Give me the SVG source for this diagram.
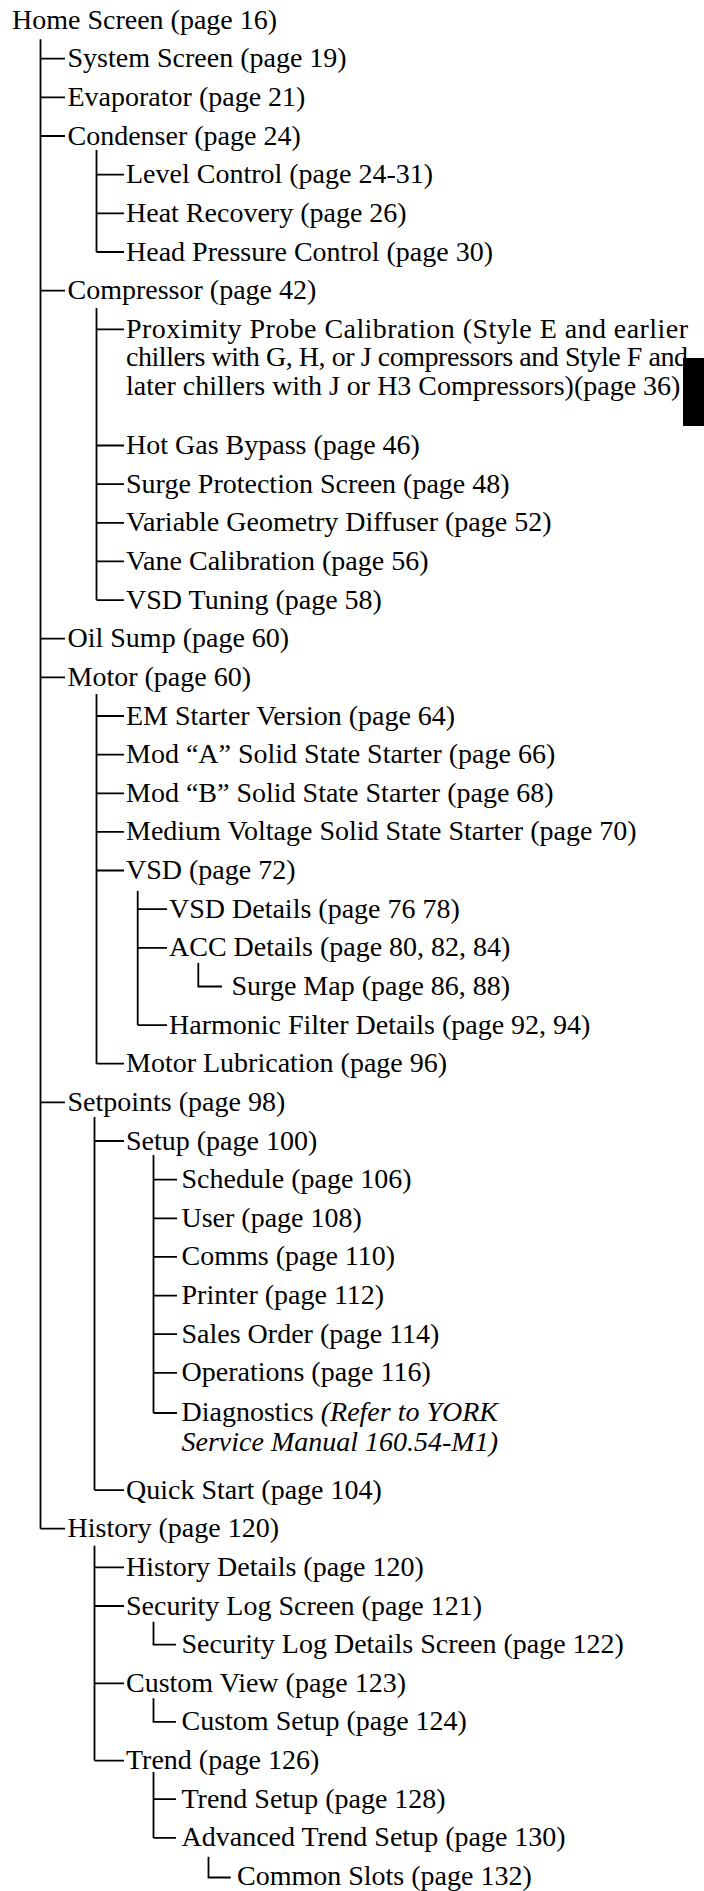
<svg xmlns="http://www.w3.org/2000/svg" width="704" height="1891" viewBox="0 0 704 1891">
<style>
.t{font-family:"Liberation Serif","Times New Roman",serif;font-size:28px;fill:#000}
.i{font-style:italic}
.c{stroke:#000;stroke-width:1.8;fill:none;stroke-linecap:butt}
</style>
<rect width="704" height="1891" fill="#fff"/>
<g id="connectors" class="c">
<path d="M40.5 39.3V1528.7M40.5 58.7H65M40.5 97.3H65M40.5 136H65M40.5 290.7H65M40.5 638.7H65M40.5 677.3H65M40.5 1102.4H65M40.5 1528.7H65"/>
<path d="M96.5 150V252M96.5 174.7H124M96.5 213.3H124M96.5 252H124"/>
<path d="M96.5 308V600.1M96.5 329.4H124M96.5 445.5H124M96.5 484.1H124M96.5 522.8H124M96.5 561.4H124M96.5 600.1H124"/>
<path d="M96.5 694V1063.7M96.5 716H124M96.5 754.6H124M96.5 793.3H124M96.5 831.9H124M96.5 870.5H124M96.5 1063.7H124"/>
<path d="M137.7 891V1025.1M137.7 909.2H167M137.7 947.8H167M137.7 1025.1H167"/>
<path d="M198.3 963V986.5H222"/>
<path d="M94.5 1117V1490.1M94.5 1141H124M94.5 1490.1H124"/>
<path d="M153.5 1155V1413M153.5 1179.7H177M153.5 1218.3H177M153.5 1256.9H177M153.5 1295.6H177M153.5 1334.2H177M153.5 1372.9H177M153.5 1413H177"/>
<path d="M94.5 1545.7V1760.6M94.5 1567.4H124M94.5 1606H124M94.5 1683.3H124M94.5 1760.6H124"/>
<path d="M153.5 1621.7V1644.7H176"/>
<path d="M153.5 1698.3V1721.9H176"/>
<path d="M153.5 1772V1837.9M153.5 1799.2H176M153.5 1837.9H176"/>
<path d="M208.5 1856.7V1877.5H230.7"/>
</g>
<g id="home"><text class="t" x="12" y="28.5">Home Screen (page 16)</text></g>
<g id="system"><text class="t" x="67.5" y="67.2">System Screen (page 19)</text></g>
<g id="evaporator"><text class="t" x="67.5" y="105.8">Evaporator (page 21)</text></g>
<g id="condenser"><text class="t" x="67.5" y="144.5">Condenser (page 24)</text></g>
<g id="level-control"><text class="t" x="126" y="183.2">Level Control (page 24-31)</text></g>
<g id="heat-recovery"><text class="t" x="126" y="221.8">Heat Recovery (page 26)</text></g>
<g id="head-pressure"><text class="t" x="126" y="260.5">Head Pressure Control (page 30)</text></g>
<g id="compressor"><text class="t" x="67.5" y="299.2">Compressor (page 42)</text></g>
<g id="proximity">
<text class="t" x="126" y="337.9" textLength="562" lengthAdjust="spacing">Proximity Probe Calibration (Style E and earlier</text>
<text class="t" x="126" y="366.4" textLength="562" lengthAdjust="spacing">chillers with G, H, or J compressors and Style F and</text>
<text class="t" x="126" y="394.9">later chillers with J or H3 Compressors)(page 36)</text>
</g>
<g id="hot-gas"><text class="t" x="126" y="454">Hot Gas Bypass (page 46)</text></g>
<g id="surge-protection"><text class="t" x="126" y="492.6">Surge Protection Screen (page 48)</text></g>
<g id="vgd"><text class="t" x="126" y="531.3">Variable Geometry Diffuser (page 52)</text></g>
<g id="vane"><text class="t" x="126" y="569.9">Vane Calibration (page 56)</text></g>
<g id="vsd-tuning"><text class="t" x="126" y="608.6">VSD Tuning (page 58)</text></g>
<g id="oil-sump"><text class="t" x="67.5" y="647.2">Oil Sump (page 60)</text></g>
<g id="motor"><text class="t" x="67.5" y="685.8">Motor (page 60)</text></g>
<g id="em-starter"><text class="t" x="126" y="724.5">EM Starter Version (page 64)</text></g>
<g id="mod-a"><text class="t" x="126" y="763.1">Mod “A” Solid State Starter (page 66)</text></g>
<g id="mod-b"><text class="t" x="126" y="801.8">Mod “B” Solid State Starter (page 68)</text></g>
<g id="mv-starter"><text class="t" x="126" y="840.4">Medium Voltage Solid State Starter (page 70)</text></g>
<g id="vsd"><text class="t" x="126" y="879">VSD (page 72)</text></g>
<g id="vsd-details"><text class="t" x="169" y="917.7">VSD Details (page 76 78)</text></g>
<g id="acc-details"><text class="t" x="169" y="956.3">ACC Details (page 80, 82, 84)</text></g>
<g id="surge-map"><text class="t" x="231.5" y="995">Surge Map (page 86, 88)</text></g>
<g id="harmonic"><text class="t" x="169" y="1033.6">Harmonic Filter Details (page 92, 94)</text></g>
<g id="motor-lub"><text class="t" x="126" y="1072.2">Motor Lubrication (page 96)</text></g>
<g id="setpoints"><text class="t" x="67.5" y="1110.9">Setpoints (page 98)</text></g>
<g id="setup"><text class="t" x="126" y="1149.5">Setup (page 100)</text></g>
<g id="schedule"><text class="t" x="181.5" y="1188.2">Schedule (page 106)</text></g>
<g id="user"><text class="t" x="181.5" y="1226.8">User (page 108)</text></g>
<g id="comms"><text class="t" x="181.5" y="1265.4">Comms (page 110)</text></g>
<g id="printer"><text class="t" x="181.5" y="1304.1">Printer (page 112)</text></g>
<g id="sales-order"><text class="t" x="181.5" y="1342.7">Sales Order (page 114)</text></g>
<g id="operations"><text class="t" x="181.5" y="1381.4">Operations (page 116)</text></g>
<g id="diagnostics">
<text class="t" x="181.5" y="1421">Diagnostics <tspan class="i">(Refer to YORK</tspan></text>
<text class="t i" x="181.5" y="1451">Service Manual 160.54-M1)</text>
</g>
<g id="quick-start"><text class="t" x="126" y="1498.6">Quick Start (page 104)</text></g>
<g id="history"><text class="t" x="67.5" y="1537.2">History (page 120)</text></g>
<g id="history-details"><text class="t" x="126" y="1575.9">History Details (page 120)</text></g>
<g id="security-log"><text class="t" x="126" y="1614.5">Security Log Screen (page 121)</text></g>
<g id="security-log-details"><text class="t" x="181.5" y="1653.2">Security Log Details Screen (page 122)</text></g>
<g id="custom-view"><text class="t" x="126" y="1691.8">Custom View (page 123)</text></g>
<g id="custom-setup"><text class="t" x="181.5" y="1730.4">Custom Setup (page 124)</text></g>
<g id="trend"><text class="t" x="126" y="1769.1">Trend (page 126)</text></g>
<g id="trend-setup"><text class="t" x="181.5" y="1807.7">Trend Setup (page 128)</text></g>
<g id="advanced-trend"><text class="t" x="181.5" y="1846.4">Advanced Trend Setup (page 130)</text></g>
<g id="common-slots"><text class="t" x="237" y="1885">Common Slots (page 132)</text></g>
<rect id="tab-marker" x="683" y="358" width="21" height="68" fill="#000"/>
</svg>
